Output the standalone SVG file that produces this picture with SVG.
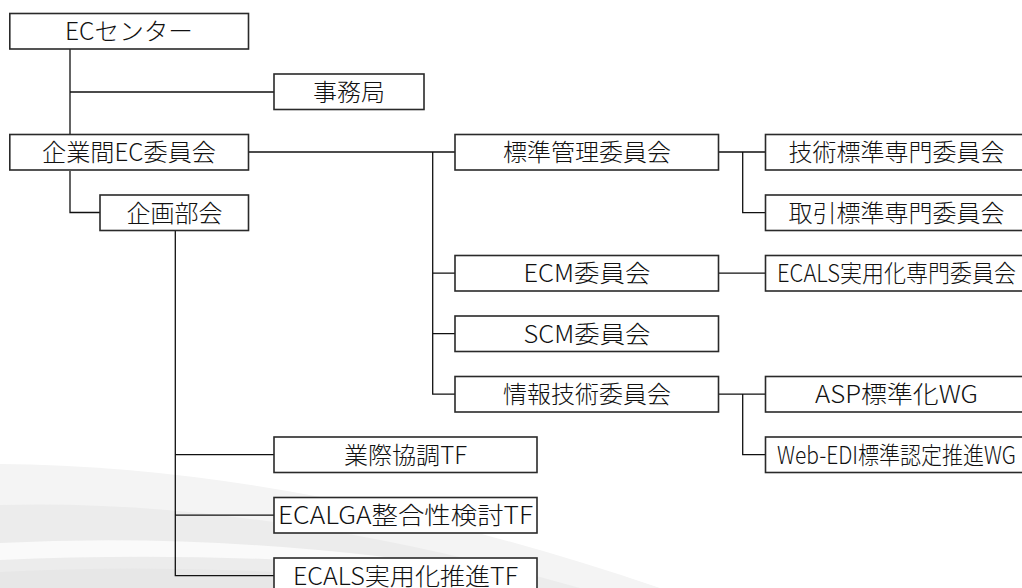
<svg xmlns="http://www.w3.org/2000/svg" width="1022" height="588" viewBox="0 0 1022 588">
<style>
.box{fill:#fff;stroke:#2a2a2a;stroke-width:1.6}
.lbl{font-family:"Noto Sans CJK JP","Noto Sans",sans-serif;font-size:24px;font-weight:300;fill:#111;text-anchor:middle}
.conn path{fill:none;stroke:#111;stroke-width:1.3}
</style>
<rect x="0" y="0" width="1022" height="588" fill="#fff"/>
<g id="background">
<path d="M0 464 Q300 466 660 588 L0 588 Z" fill="#f4f4f4"/>
<path d="M0 505 Q260 498 580 588 L0 588 Z" fill="#ececec"/>
<path d="M0 543 Q260 530 540 580 Q260 548 0 560 Z" fill="#fafafa"/>
<path d="M0 572 Q220 560 470 588 L0 588 Z" fill="#e7e7e7"/>
</g>
<g id="connectors" class="conn">
<path d="M70 49 V134 M70 92 H274"/>
<path d="M70 171 V212.5 H100"/>
<path d="M249 152 H455"/>
<path d="M432.7 152 V394.2 H455 M432.7 273.2 H455 M432.7 333.7 H455"/>
<path d="M718.7 152 H765 M742.7 152 V212.7 H765"/>
<path d="M718.7 273.2 H765"/>
<path d="M718.7 394.2 H765 M742.7 394.2 V454.7 H765"/>
<path d="M175.3 230 V575.7 H274 M175.3 454.7 H274 M175.3 515.2 H274"/>
</g>
<g id="n-ec-center"><rect class="box" x="9.8" y="13.5" width="238.7" height="35.5"/><text class="lbl" x="129" y="40.2" textLength="128" lengthAdjust="spacingAndGlyphs">ECセンター</text></g>
<g id="n-jimukyoku"><rect class="box" x="274" y="74" width="150" height="35.5"/><text class="lbl" x="349" y="100.7">事務局</text></g>
<g id="n-kigyokan"><rect class="box" x="9.8" y="134.5" width="238.7" height="35.5"/><text class="lbl" x="129" y="161.2" textLength="174" lengthAdjust="spacingAndGlyphs">企業間EC委員会</text></g>
<g id="n-kikaku"><rect class="box" x="100" y="195" width="148.5" height="35.5"/><text class="lbl" x="174.5" y="221.7">企画部会</text></g>
<g id="n-hyojun-kanri"><rect class="box" x="455" y="134.5" width="263.5" height="35.5"/><text class="lbl" x="587" y="161.2">標準管理委員会</text></g>
<g id="n-gijutsu-hyojun"><rect class="box" x="765.5" y="134.5" width="263" height="35.5"/><text class="lbl" x="896.5" y="161.2">技術標準専門委員会</text></g>
<g id="n-torihiki-hyojun"><rect class="box" x="765.5" y="195" width="263" height="35.5"/><text class="lbl" x="896.5" y="221.7">取引標準専門委員会</text></g>
<g id="n-ecm"><rect class="box" x="455" y="255.5" width="263.5" height="35.5"/><text class="lbl" x="587" y="282.2" textLength="127" lengthAdjust="spacingAndGlyphs">ECM委員会</text></g>
<g id="n-ecals-senmon"><rect class="box" x="765.5" y="255.5" width="263" height="35.5"/><text class="lbl" x="896.5" y="282.2" textLength="239" lengthAdjust="spacingAndGlyphs">ECALS実用化専門委員会</text></g>
<g id="n-scm"><rect class="box" x="455" y="316" width="263.5" height="35.5"/><text class="lbl" x="587" y="342.7" textLength="127" lengthAdjust="spacingAndGlyphs">SCM委員会</text></g>
<g id="n-joho-gijutsu"><rect class="box" x="455" y="376.5" width="263.5" height="35.5"/><text class="lbl" x="587" y="403.2">情報技術委員会</text></g>
<g id="n-asp"><rect class="box" x="765.5" y="376.5" width="263" height="35.5"/><text class="lbl" x="896.5" y="403.2" textLength="163" lengthAdjust="spacingAndGlyphs">ASP標準化WG</text></g>
<g id="n-webedi"><rect class="box" x="765.5" y="437" width="263" height="35.5"/><text class="lbl" x="896.5" y="463.7" textLength="239" lengthAdjust="spacingAndGlyphs">Web-EDI標準認定推進WG</text></g>
<g id="n-gyosai"><rect class="box" x="274" y="437" width="263" height="35.5"/><text class="lbl" x="405.5" y="463.7" textLength="123" lengthAdjust="spacingAndGlyphs">業際協調TF</text></g>
<g id="n-ecalga"><rect class="box" x="274" y="497.5" width="263" height="35.5"/><text class="lbl" x="405.5" y="524.2" textLength="255" lengthAdjust="spacingAndGlyphs">ECALGA整合性検討TF</text></g>
<g id="n-ecals-suishin"><rect class="box" x="274" y="558" width="263" height="35.5"/><text class="lbl" x="405.5" y="584.7" textLength="225" lengthAdjust="spacingAndGlyphs">ECALS実用化推進TF</text></g>
</svg>
